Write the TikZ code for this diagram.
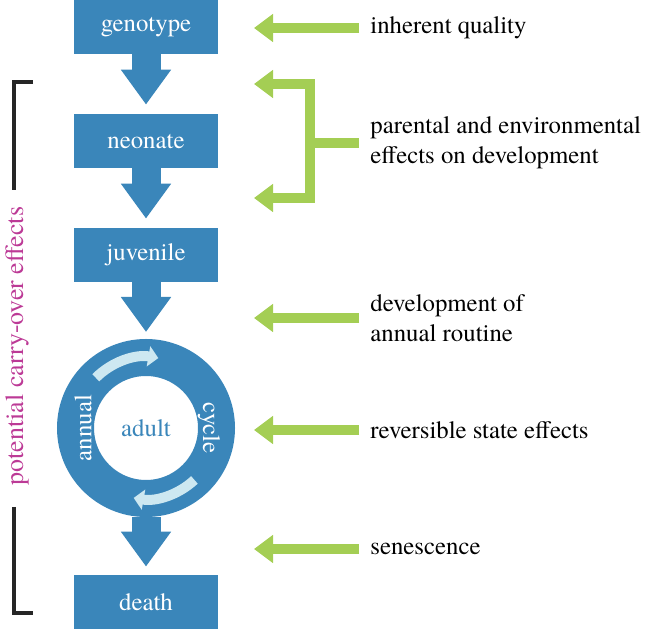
\documentclass[tikz,border=0pt]{standalone}
\usepackage{fontspec}
\setmainfont{texgyretermes}[Extension=.otf,UprightFont=*-regular,BoldFont=*-bold,ItalicFont=*-italic,BoldItalicFont=*-bolditalic]
\usetikzlibrary{arrows.meta}
\definecolor{stageblue}{RGB}{58,134,186}
\definecolor{effgreen}{RGB}{164,206,84}
\definecolor{cyclelight}{RGB}{205,232,241}
\definecolor{carrypink}{RGB}{188,58,150}
\tikzset{
  stage/.style={fill=stageblue,text=white,minimum width=72pt,minimum height=27pt,inner sep=0pt},
  down/.style={draw=stageblue,line width=14.5pt,-{Triangle[length=17.5pt,width=24pt]}},
  effect/.style={draw=effgreen,line width=5pt,line join=miter,-{Triangle[length=9.5pt,width=13.5pt]}},
  efftext/.style={anchor=west,align=left,inner sep=0pt},
  turn/.style={draw=cyclelight,line width=5pt,-{Triangle[length=5pt,width=10pt]}},
  bracket/.style={draw=black!85,line width=1.75pt},
}
\begin{document}
\begin{tikzpicture}[x=.5pt,y=-.5pt,font=\fontsize{12.4}{14.8}\selectfont]
\useasboundingbox (0,0) rectangle (649,630);
% life stages
\node[stage] (geno) at (146,27) {genotype};
\node[stage] (neo) at (146,141) {neonate};
\node[stage] (juv) at (146,255) {juvenile};
\node[circle,draw=stageblue,fill=white,line width=18.5pt,outer sep=9.25pt,minimum size=70.5pt,inner sep=0pt,text=stageblue] (adult) at (146,428) {adult};
\node[stage] (death) at (146,602) {death};
%
\draw[down,shorten >=4.5pt] (geno) -- (neo);
\draw[down,shorten >=4.5pt] (neo) -- (juv);
\draw[down,shorten >=3.5pt] (juv) -- (adult);
\draw[down,shorten >=4pt] (adult) -- (death);
\path (geno.south) -- (neo.north) coordinate[midway] (gn);
\path (neo.south) -- (juv.north) coordinate[midway] (nj);
% annual cycle
\node[text=white,rotate=90] (annual) at (83,428) {annual};
\node[text=white,rotate=-90] (cycle) at (209,428) {cycle};
\draw[turn] ([shift={(135:35.5pt)}]adult.center) arc[start angle=135,end angle=80,radius=35.5pt];
\draw[turn] ([shift={(-47:35.5pt)}]adult.center) arc[start angle=-47,end angle=-100,radius=35.5pt];
% effects
\coordinate (tipx) at (254,0);
\node[efftext] (iq) at (370,28) {inherent quality};
\node[efftext] (pe) at (370,143) {parental and environmental\\effects on development};
\node[efftext] (dr) at (370,318) {development of\\annual routine};
\node[efftext] (rs) at (370,430) {reversible state effects};
\node[efftext] (sen) at (370,549) {senescence};
\coordinate (fork) at (310,143);
\draw[effect,shorten <=5.5pt] (iq.west) -- (iq.west -| tipx);
\draw[effect,shorten <=5.5pt] (pe.west) -- (fork) |- (tipx |- gn);
\draw[effect] (fork) |- (tipx |- nj);
\draw[effect,shorten <=5.5pt] (dr.west) -- (dr.west -| tipx);
\draw[effect,shorten <=5.5pt] (rs.west) -- (rs.west -| tipx);
\draw[effect,shorten <=5.5pt] (sen.west) -- (sen.west -| tipx);
% carry-over bracket
\draw[bracket] (33,82) -- (14,82) -- (14,190);
\draw[bracket] (14,507) -- (14,613) -- (33,613);
\node[rotate=90,text=carrypink,font=\fontsize{13}{15}\selectfont] (carry) at (17,346) {potential carry-over effects};
\end{tikzpicture}
\end{document}
